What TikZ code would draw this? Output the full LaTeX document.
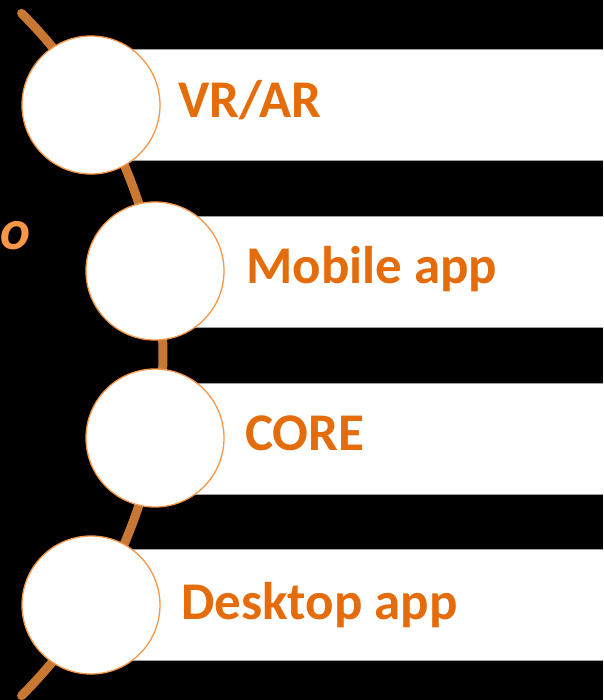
\documentclass[tikz,border=0pt]{standalone}
\usepackage{fontspec}
\setmainfont{Carlito}
\definecolor{arcorange}{RGB}{200,120,50}
\definecolor{ringorange}{RGB}{247,150,70}
\definecolor{txtorange}{RGB}{228,108,10}
\definecolor{barline}{RGB}{160,160,160}
\tikzset{
  bar/.style={fill=white, draw=barline, line width=0.8pt},
  bubble/.style={circle, fill=white, draw=ringorange, line width=1.3pt, minimum size=138pt, inner sep=0pt},
  label/.style={text=txtorange, font=\fontsize{53}{62}\selectfont\bfseries, anchor=base west, inner sep=0pt},
}
\begin{document}
\begin{tikzpicture}[x=1pt,y=1pt]
\fill[black] (0,0) rectangle (603,-700);
\useasboundingbox (0,0) rectangle (603,-700);
\clip (0,0) rectangle (603,-700);
% bars
\draw[bar] (91,-49) rectangle (620,-160);
\draw[bar] (155,-216) rectangle (620,-327);
\draw[bar] (155,-383) rectangle (620,-494);
\draw[bar] (91,-549) rectangle (620,-660);
% arc
\coordinate (arcc) at (-319.6,-354.5);
\draw[arcorange, line width=9pt, line cap=round] (arcc) ++(45:482.5) arc[start angle=45, end angle=-45, radius=482.5];
% partial text at left
\node[text=ringorange, font=\fontsize{57}{66}\selectfont\bfseries\itshape, anchor=base east, inner sep=0pt] (o) at (31,-250) {o};
% circles
\node[bubble] (c1) at (91,-105) {};
\node[bubble] (c2) at (155,-271) {};
\node[bubble] (c3) at (155,-438) {};
\node[bubble] (c4) at (91,-605) {};
% labels
\node[label] (t1) at (178,-118) {VR/AR};
\node[label] (t2) at (246,-283) {Mobile app};
\node[label] (t3) at (245,-450) {CORE};
\node[label] (t4) at (181,-619) {Desktop app};
\end{tikzpicture}
\end{document}
